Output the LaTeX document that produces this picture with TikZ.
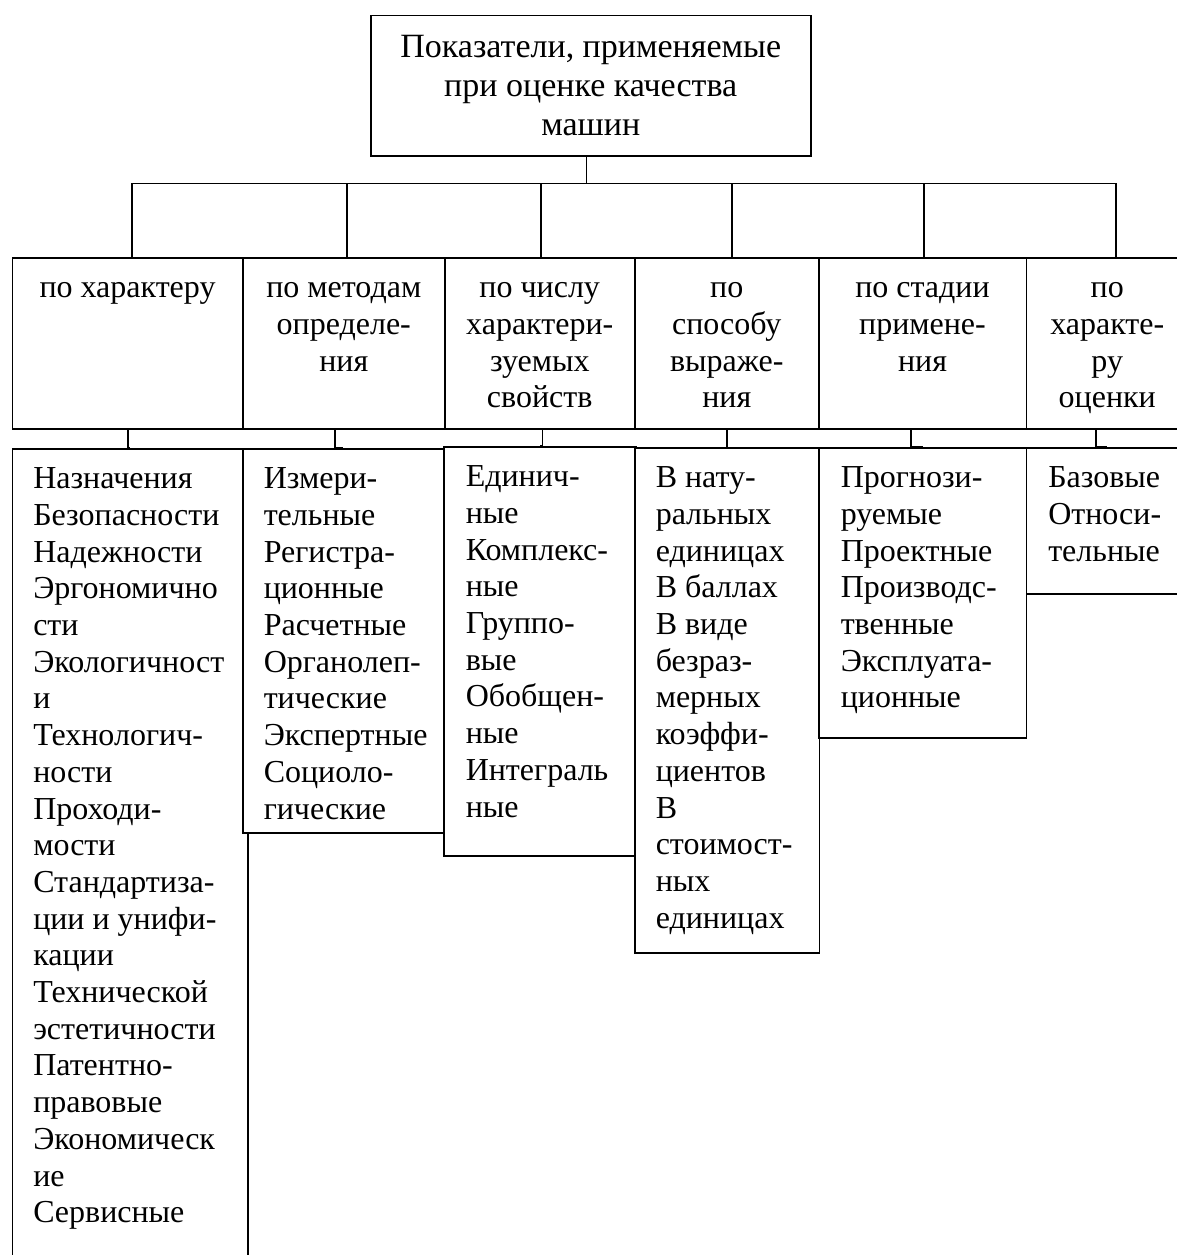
\documentclass[tikz,border=0pt]{standalone}
\usepackage{fontspec}
\setmainfont{Liberation Serif}
\usetikzlibrary{positioning}

\begin{document}
\begin{tikzpicture}[x=1pt, y=-1pt, line width=1.5pt,
    blockbox/.style={draw, fill=white, anchor=north west, inner sep=0pt},
    headtext/.style={inner sep=0pt, align=center, font=\fontsize{34}{39}\selectfont},
    crittext/.style={inner sep=0pt, align=center, font=\fontsize{32}{36.7}\selectfont},
    kindtext/.style={inner sep=0pt, align=left, font=\fontsize{32}{36.7}\selectfont}]
    \useasboundingbox (0,0) rectangle (1177,1255);
    \clip (0,0) rectangle (1177,1255);

    % lower row: lists
    \node[blockbox, minimum width=235.5, minimum height=830] (kind1) at (11.5,448) {};
    \node[blockbox, minimum width=201, minimum height=384] (kind2) at (242,448) {};
    \node[blockbox, minimum width=192, minimum height=409] (kind3) at (443,446) {};
    \node[blockbox, minimum width=184.5, minimum height=505] (kind4) at (634,447) {};
    \node[blockbox, minimum width=207.5, minimum height=290] (kind5) at (818,447) {};
    \node[blockbox, minimum width=162, minimum height=146] (kind6) at (1025.5,447) {};

    % middle row: criteria
    \node[blockbox, minimum width=230.5, minimum height=171] (crit1) at (11.5,257) {};
    \node[blockbox, minimum width=202, minimum height=171] (crit2) at (242,257) {};
    \node[blockbox, minimum width=190, minimum height=171] (crit3) at (444,257) {};
    \node[blockbox, minimum width=184, minimum height=171] (crit4) at (634,257) {};
    \node[blockbox, minimum width=207.5, minimum height=171] (crit5) at (818,257) {};
    \node[blockbox, minimum width=162, minimum height=171] (crit6) at (1025.5,257) {};

    % head
    \node[blockbox, minimum width=440, minimum height=140] (head) at (370,15) {};
    \coordinate (bus) at ([xshift=-4.3pt, yshift=-27pt]head.south);

    % texts
    \node[headtext, below=14.7pt of head.north] (headlab) {\strut Показатели, применяемые\\при оценке качества\\машин};

    \node[crittext, below=14.3pt of crit1.north] (critlab1) {\strut по характеру};
    \node[crittext, below=14.3pt of crit2.north] (critlab2) {\strut по методам\\определе-\\ния};
    \node[crittext, below=14.3pt of crit3.north] (critlab3) {\strut по числу\\характери-\\зуемых\\свойств};
    \node[crittext, below=14.3pt of crit4.north] (critlab4) {\strut по\\способу\\выраже-\\ния};
    \node[crittext, below=14.3pt of crit5.north] (critlab5) {\strut по стадии\\примене-\\ния};
    \node[crittext, below=14.3pt of crit6.north] (critlab6) {\strut по\\характе-\\ру\\оценки};

    \node[kindtext, below right=14.3pt and 21pt of kind1.north west] (kindlab1) {\strut Назначения\\Безопасности\\Надежности\\Эргономично\\сти\\Экологичност\\и\\Технологич-\\ности\\Проходи-\\мости\\Стандартиза-\\ции и унифи-\\кации\\Технической\\эстетичности\\Патентно-\\правовые\\Экономическ\\ие\\Сервисные};
    \node[kindtext, below right=14.3pt and 21pt of kind2.north west] (kindlab2) {\strut Измери-\\тельные\\Регистра-\\ционные\\Расчетные\\Органолеп-\\тические\\Экспертные\\Социоло-\\гические};
    \node[kindtext, below right=14.3pt and 22pt of kind3.north west] (kindlab3) {\strut Единич-\\ные\\Комплекс-\\ные\\Группо-\\вые\\Обобщен-\\ные\\Интеграль\\ные};
    \node[kindtext, below right=14.3pt and 21pt of kind4.north west] (kindlab4) {\strut В нату-\\ральных\\единицах\\В баллах\\В виде\\безраз-\\мерных\\коэффи-\\циентов\\В\\стоимост-\\ных\\единицах};
    \node[kindtext, below right=14.3pt and 22pt of kind5.north west] (kindlab5) {\strut Прогнози-\\руемые\\Проектные\\Производс-\\твенные\\Эксплуата-\\ционные};
    \node[kindtext, below right=14.3pt and 22pt of kind6.north west] (kindlab6) {\strut Базовые\\Относи-\\тельные};

    % connectors
    \draw (bus) -- (bus |- head.south);
    \draw ([xshift=4.25pt]crit1.north) |- (bus);
    \draw ([xshift=3pt]crit2.north) |- (bus);
    \draw ([xshift=1pt]crit3.north) |- (bus);
    \draw ([xshift=5pt]crit4.north) |- (bus);
    \draw ([xshift=1.25pt]crit5.north) |- (bus);
    \draw ([xshift=8.5pt]crit6.north) |- (bus);

    \draw ([xshift=0.25pt]crit1.south) |- (kind1.north);
    \draw ([xshift=-9pt]crit2.south) |- (kind2.north);
    \draw ([xshift=2.5pt]crit3.south) |- (kind3.north);
    \draw (crit4.south) |- (kind4.north);
    \draw ([xshift=-11.75pt]crit5.south) |- (kind5.north);
    \draw ([xshift=-11.5pt]crit6.south) |- (kind6.north);
\end{tikzpicture}
\end{document}
